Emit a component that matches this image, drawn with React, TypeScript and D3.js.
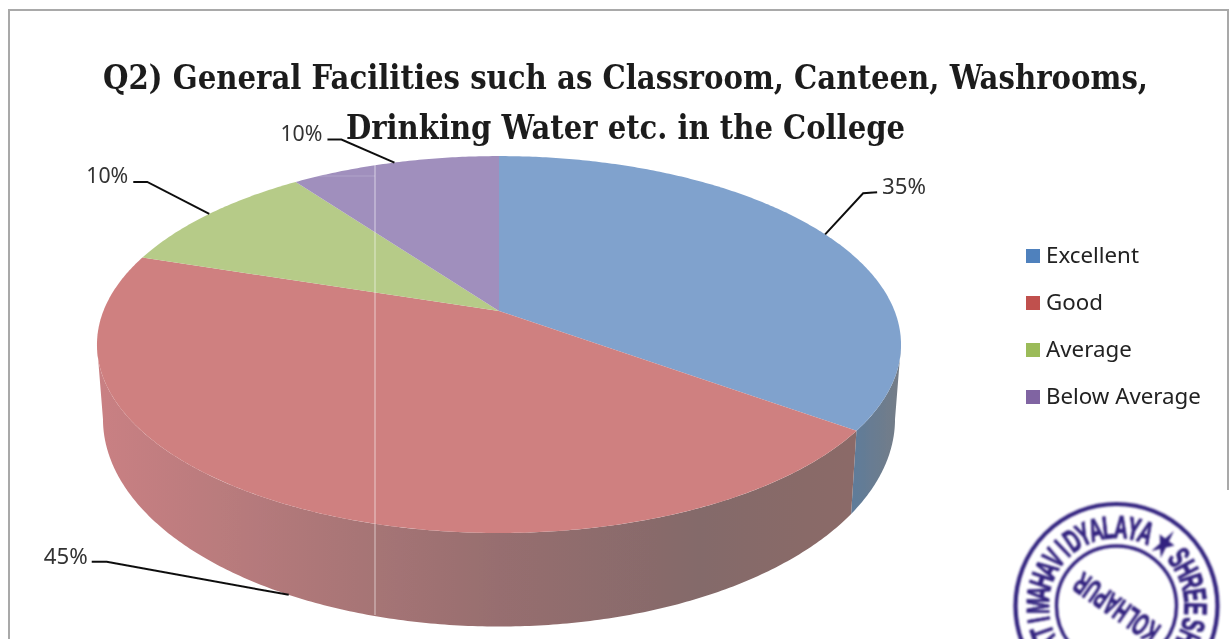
import React from "react";
import * as d3 from "d3";

const categories = ["Excellent", "Good", "Average", "Below Average"];
const shares = [35, 45, 10, 10];
const percentLabels = ["35%", "45%", "10%", "10%"];
const titleLines = [
  "Q2) General Facilities such as Classroom, Canteen, Washrooms,",
  "Drinking Water etc. in the College",
];
const topColors = ["#80a2cd", "#cf8080", "#b6cb88", "#a08fbd"];
const legendColors = ["#4f81bd", "#c0504d", "#9bbb59", "#8064a2"];
const stampRing = [
  { text: "MAHAVIDYALAYA", from: -90, to: 22 },
  { text: "★", from: 30, to: 44 },
  { text: "SHREE", from: 52, to: 92 },
  { text: "SHAHU", from: 104, to: 145 },
  { text: "PATI", from: -128, to: -100 },
];

const W = 1229;
const H = 639;
const persp = 0.178;
const rimPlane = { cx: 499, cy: 311, a: 395.6, b: 182.5 };
const basePlane = { cx: 499, cy: 382, a: 389.7, b: 201 };
const TAU = Math.PI * 2;
const sideLimit = Math.acos(-persp); // where the rim is widest on screen

function project(theta: number, plane: typeof rimPlane): [number, number] {
  const u = Math.sin(theta);
  const v = -Math.cos(theta);
  const r = 1 / (1 - persp * v);
  return [plane.cx + plane.a * u * r, plane.cy + plane.b * v * r];
}

function arcPoints(t0: number, t1: number, plane: typeof rimPlane) {
  const n = Math.max(2, Math.ceil(Math.abs(t1 - t0) / 0.01));
  return d3.range(n + 1).map((i) => project(t0 + ((t1 - t0) * i) / n, plane));
}

const line = d3.line();
const closed = (pts: [number, number][]) => (line(pts) as string) + "Z";

const pie = d3.pie<number>().sort(null).value((d) => d);
const slices = pie(shares);

// label leader lines: elbow and label position relative to the slice anchor
const leaders = [
  { plane: rimPlane, elbow: [38, -41], end: [52, -42], label: [57, -40], anchor: "start", width: 44 },
  { plane: basePlane, elbow: [-182, -33], end: [-197, -33], label: [-201, -31], anchor: "end", width: 44 },
  { plane: rimPlane, elbow: [-62, -32], end: [-76, -32], label: [-81, -31], anchor: "end", width: 42 },
  { plane: rimPlane, elbow: [-53, -23], end: [-67, -23], label: [-72, -22], anchor: "end", width: 42 },
];

const labelFont = "'Noto Sans', 'Open Sans', sans-serif";

function Stamp() {
  const cx = 1116.5;
  const cy = 606;
  const baseR = 68;
  const color = "#33247f";
  const deg = d3.scaleLinear();
  return (
    <g filter="url(#soft2)" fill={color}>
      <ellipse cx={cx} cy={cy} rx={101} ry={102} fill="none" stroke={color} strokeWidth={4.2} />
      <circle cx={cx} cy={cy} r={60} fill="none" stroke={color} strokeWidth={3.4} />
      {stampRing.map((seg) => {
        const chars = Array.from(seg.text);
        deg.domain([0, Math.max(1, chars.length - 1)]).range([seg.from, seg.to]);
        return chars.map((c, i) => {
          const a = chars.length === 1 ? (seg.from + seg.to) / 2 : deg(i);
          return (
            <text
              key={seg.text + i}
              transform={`translate(${cx},${cy}) rotate(${a}) translate(0,${-baseR}) scale(0.6,1)`}
              textAnchor="middle"
              fontFamily="'Liberation Sans', sans-serif"
              fontWeight="bold"
              fontSize={32}
              stroke={color}
              strokeWidth={1}
            >
              {c}
            </text>
          );
        });
      })}
      <text
        transform={`translate(${cx},${cy + 2}) rotate(215) scale(0.55,1)`}
        textAnchor="middle"
        fontFamily="'Liberation Sans', sans-serif"
        fontWeight="bold"
        fontSize={31}
        stroke={color}
        strokeWidth={1}
        y={11}
      >
        KOLHAPUR
      </text>
    </g>
  );
}

export default function App() {
  const [redS, redE] = [slices[1].startAngle, slices[1].endAngle];
  const blueE = slices[0].endAngle;
  const leftLimit = TAU - sideLimit;

  const blueSide = closed([
    ...arcPoints(sideLimit, blueE, rimPlane),
    ...arcPoints(blueE, sideLimit, basePlane),
  ]);
  const redSide = closed([
    ...arcPoints(redS, Math.min(redE, leftLimit), rimPlane),
    ...arcPoints(Math.min(redE, leftLimit), redS, basePlane),
  ]);

  return (
    <svg
      width={W}
      height={H}
      viewBox={`0 0 ${W} ${H}`}
      style={{ position: "absolute", left: 0, top: 0, display: "block", background: "#fff" }}
    >
      <defs>
        <filter id="soft" x="-5%" y="-20%" width="110%" height="140%">
          <feGaussianBlur stdDeviation="0.45" />
        </filter>
        <filter id="soft2" x="-5%" y="-5%" width="110%" height="110%">
          <feGaussianBlur stdDeviation="0.8" />
        </filter>
        <linearGradient id="redSide" gradientUnits="userSpaceOnUse" x1={100} x2={850} y1={0} y2={0}>
          <stop offset="0" stopColor="#c98083" />
          <stop offset="0.32" stopColor="#aa7677" />
          <stop offset="0.53" stopColor="#976e6f" />
          <stop offset="0.8" stopColor="#846a6a" />
          <stop offset="1" stopColor="#8b6a67" />
        </linearGradient>
        <linearGradient id="blueSide" gradientUnits="userSpaceOnUse" x1={850} x2={897} y1={0} y2={0}>
          <stop offset="0" stopColor="#5d7b9b" />
          <stop offset="1" stopColor="#747d88" />
        </linearGradient>
      </defs>

      <path d={`M9 639V10H1228V490`} fill="none" stroke="#a9a9a9" strokeWidth={2} />

      <Stamp />

      <g filter="url(#soft)">
        <path d={blueSide} fill="url(#blueSide)" />
        <path d={redSide} fill="url(#redSide)" />
        {slices.map((s, i) => (
          <path
            key={categories[i]}
            d={closed([[rimPlane.cx, rimPlane.cy], ...arcPoints(s.startAngle, s.endAngle, rimPlane)])}
            fill={topColors[i]}
          />
        ))}
      </g>

      <line x1={375} x2={375} y1={165} y2={615} stroke="#fff" strokeOpacity={0.5} strokeWidth={1.2} />
      <line x1={302} x2={375} y1={176} y2={176} stroke="#fff" strokeOpacity={0.18} strokeWidth={1} />

      <g
        fontFamily="'DejaVu Serif Condensed', 'DejaVu Serif', serif"
        fontWeight="bold"
        fontSize={33}
        fill="#1e1e1e"
        textAnchor="middle"
        filter="url(#soft)"
      >
        {titleLines.map((t, i) => (
          <text key={t} x={625.5} y={89 + i * 50} textLength={i === 0 ? 1045 : 559} lengthAdjust="spacingAndGlyphs">
            {t}
          </text>
        ))}
      </g>

      {slices.map((s, i) => {
        const l = leaders[i];
        const mid = (s.startAngle + s.endAngle) / 2;
        const [ax, ay] = project(mid, l.plane);
        const pts: [number, number][] = [
          [ax, ay],
          [ax + l.elbow[0], ay + l.elbow[1]],
          [ax + l.end[0], ay + l.end[1]],
        ];
        return (
          <g key={"lab" + i}>
            <path d={line(pts) as string} fill="none" stroke="#111" strokeWidth={2} filter="url(#soft)" />
            <text
              x={ax + l.label[0]}
              y={ay + l.label[1]}
              textAnchor={l.anchor as "start" | "end"}
              fontFamily={labelFont}
              fontSize={21}
              fill="#333"
              textLength={l.width}
              lengthAdjust="spacingAndGlyphs"
              filter="url(#soft)"
            >
              {percentLabels[i]}
            </text>
          </g>
        );
      })}

      {categories.map((c, i) => {
        const y = d3.scalePoint<number>().domain([0, 1, 2, 3]).range([249, 390])(i) as number;
        return (
          <g key={c}>
            <rect x={1026} y={y} width={14} height={14} fill={legendColors[i]} />
            <text x={1046} y={y + 14} fontFamily={labelFont} fontSize={22.3} fill="#222" filter="url(#soft)">
              {c}
            </text>
          </g>
        );
      })}
    </svg>
  );
}
